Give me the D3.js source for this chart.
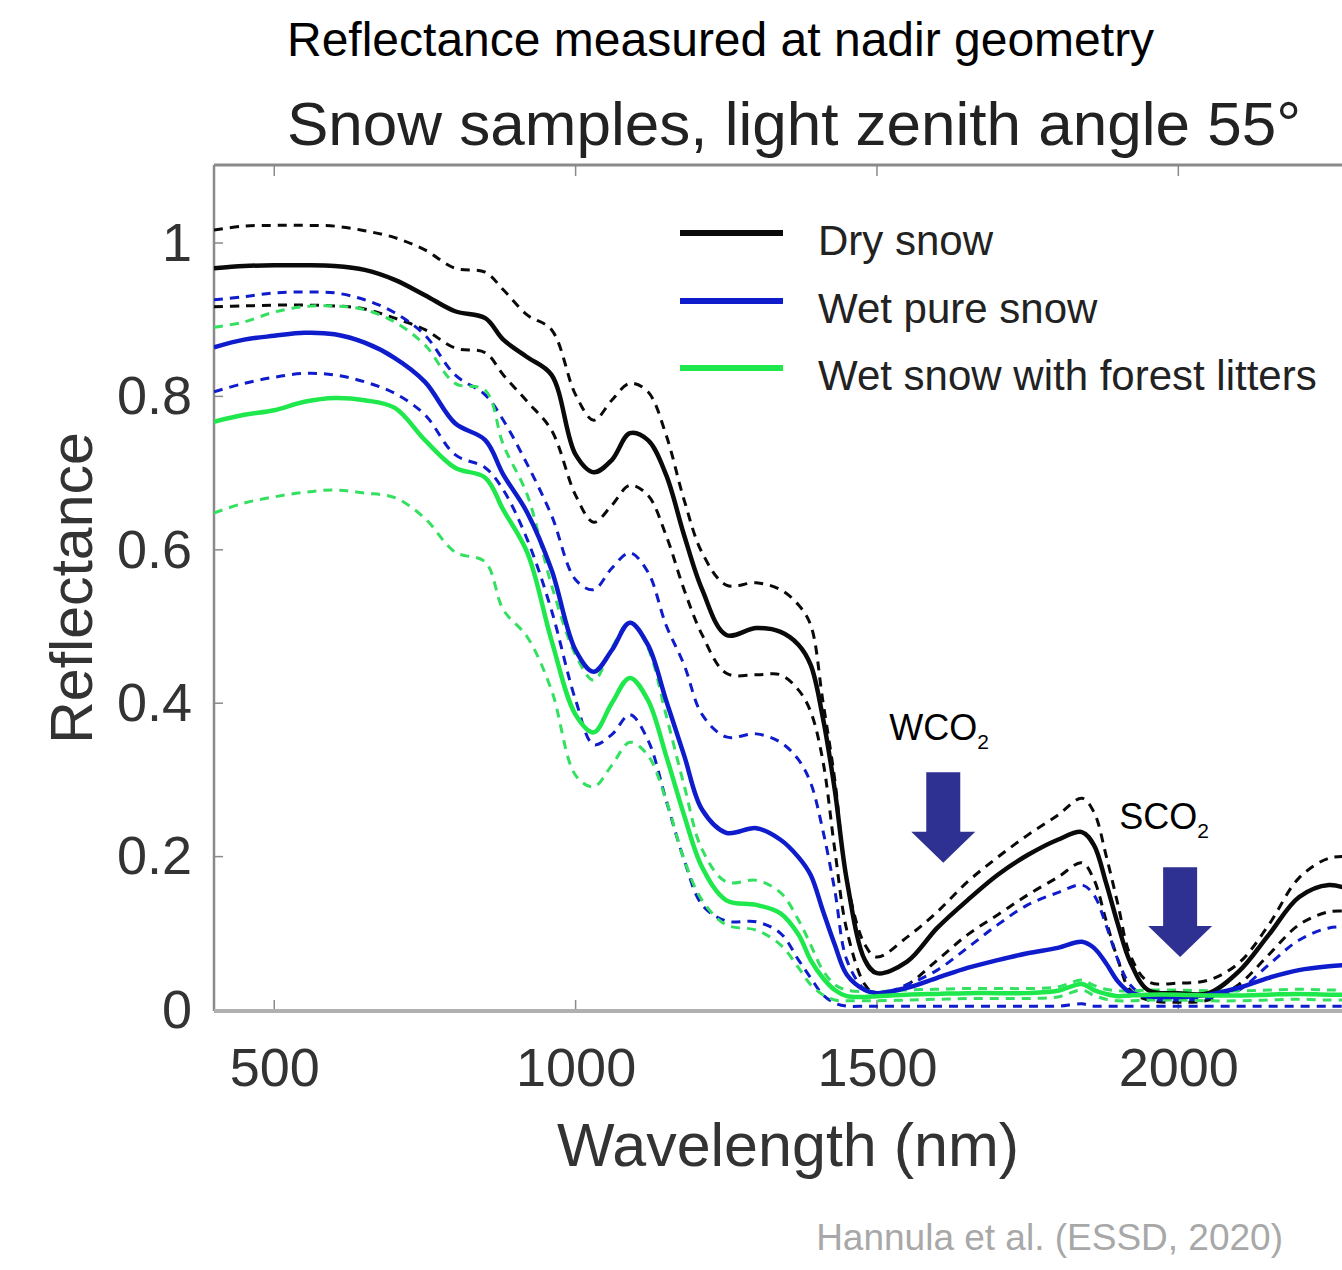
<!DOCTYPE html>
<html>
<head>
<meta charset="utf-8">
<script src="https://cdn.jsdelivr.net/npm/d3@7"></script>
<style>
  html, body { margin: 0; padding: 0; background: #fff; }
  svg { display: block; font-family: "Liberation Sans", Arial, sans-serif; }
</style>
</head>
<body>
<svg id="chart" width="1342" height="1270"></svg>
<script>
// ---------- DATA ----------
const wavelengths = [400, 450, 500, 550, 600, 650, 700, 750, 800, 850, 880, 920, 960, 1000, 1030, 1060, 1090, 1120, 1150, 1180, 1210, 1250, 1300, 1340, 1370, 1390, 1410, 1430, 1450, 1480, 1500, 1550, 1600, 1650, 1700, 1750, 1800, 1840, 1860, 1880, 1900, 1920, 1950, 2000, 2050, 2100, 2150, 2200, 2250, 2290];

const dryMean  = [0.967, 0.970, 0.971, 0.971, 0.970, 0.965, 0.952, 0.932, 0.911, 0.902, 0.874, 0.851, 0.828, 0.724, 0.701, 0.717, 0.752, 0.743, 0.698, 0.619, 0.548, 0.489, 0.498, 0.493, 0.476, 0.450, 0.382, 0.287, 0.169, 0.065, 0.048, 0.063, 0.107, 0.143, 0.176, 0.202, 0.222, 0.232, 0.215, 0.166, 0.111, 0.063, 0.026, 0.022, 0.022, 0.050, 0.098, 0.147, 0.163, 0.155];
const dryUpper = [1.017, 1.022, 1.023, 1.023, 1.022, 1.016, 1.007, 0.991, 0.967, 0.962, 0.939, 0.906, 0.887, 0.802, 0.769, 0.795, 0.817, 0.806, 0.750, 0.665, 0.596, 0.554, 0.557, 0.548, 0.528, 0.502, 0.404, 0.300, 0.169, 0.085, 0.069, 0.095, 0.128, 0.167, 0.199, 0.228, 0.254, 0.276, 0.258, 0.202, 0.137, 0.072, 0.037, 0.035, 0.039, 0.061, 0.111, 0.172, 0.198, 0.200];
const dryLower = [0.917, 0.918, 0.919, 0.919, 0.918, 0.914, 0.902, 0.887, 0.863, 0.857, 0.828, 0.793, 0.756, 0.671, 0.636, 0.658, 0.684, 0.671, 0.619, 0.548, 0.489, 0.439, 0.437, 0.437, 0.417, 0.389, 0.326, 0.209, 0.104, 0.033, 0.020, 0.033, 0.065, 0.098, 0.124, 0.150, 0.173, 0.192, 0.170, 0.117, 0.065, 0.026, 0.013, 0.010, 0.013, 0.033, 0.072, 0.111, 0.128, 0.128];

const wetMean  = [0.864, 0.874, 0.879, 0.883, 0.881, 0.870, 0.850, 0.819, 0.765, 0.743, 0.698, 0.648, 0.574, 0.469, 0.441, 0.469, 0.505, 0.476, 0.404, 0.332, 0.261, 0.231, 0.237, 0.222, 0.199, 0.176, 0.130, 0.085, 0.046, 0.026, 0.022, 0.029, 0.042, 0.055, 0.065, 0.074, 0.081, 0.089, 0.081, 0.061, 0.037, 0.023, 0.018, 0.017, 0.020, 0.029, 0.042, 0.052, 0.057, 0.059];
const wetUpper = [0.926, 0.930, 0.935, 0.936, 0.935, 0.926, 0.909, 0.880, 0.828, 0.802, 0.769, 0.711, 0.645, 0.561, 0.548, 0.576, 0.596, 0.571, 0.502, 0.450, 0.385, 0.356, 0.360, 0.349, 0.326, 0.296, 0.235, 0.156, 0.065, 0.026, 0.020, 0.033, 0.052, 0.081, 0.111, 0.137, 0.153, 0.163, 0.150, 0.111, 0.065, 0.033, 0.016, 0.013, 0.016, 0.026, 0.059, 0.091, 0.107, 0.108];
const wetLower = [0.806, 0.817, 0.825, 0.830, 0.828, 0.819, 0.804, 0.776, 0.724, 0.707, 0.678, 0.613, 0.521, 0.404, 0.346, 0.359, 0.385, 0.352, 0.274, 0.196, 0.137, 0.116, 0.115, 0.100, 0.065, 0.042, 0.020, 0.009, 0.005, 0.005, 0.005, 0.005, 0.005, 0.005, 0.005, 0.005, 0.005, 0.008, 0.005, 0.005, 0.005, 0.005, 0.005, 0.005, 0.005, 0.005, 0.005, 0.005, 0.005, 0.005];

const litMean  = [0.767, 0.776, 0.782, 0.793, 0.798, 0.795, 0.785, 0.743, 0.707, 0.694, 0.652, 0.596, 0.482, 0.385, 0.362, 0.400, 0.433, 0.404, 0.332, 0.254, 0.186, 0.143, 0.137, 0.126, 0.098, 0.065, 0.042, 0.026, 0.018, 0.017, 0.018, 0.020, 0.021, 0.022, 0.022, 0.022, 0.025, 0.034, 0.026, 0.021, 0.018, 0.019, 0.020, 0.020, 0.019, 0.019, 0.020, 0.021, 0.020, 0.020];
const litUpper = [0.890, 0.897, 0.910, 0.917, 0.918, 0.913, 0.897, 0.867, 0.817, 0.808, 0.737, 0.671, 0.554, 0.463, 0.430, 0.472, 0.506, 0.472, 0.385, 0.293, 0.209, 0.167, 0.169, 0.153, 0.117, 0.085, 0.052, 0.033, 0.026, 0.024, 0.024, 0.026, 0.027, 0.028, 0.028, 0.028, 0.030, 0.039, 0.032, 0.027, 0.025, 0.025, 0.026, 0.026, 0.025, 0.025, 0.026, 0.027, 0.026, 0.026];
const litLower = [0.648, 0.661, 0.669, 0.675, 0.678, 0.674, 0.668, 0.641, 0.597, 0.584, 0.522, 0.486, 0.417, 0.306, 0.291, 0.319, 0.349, 0.332, 0.274, 0.196, 0.143, 0.111, 0.104, 0.085, 0.055, 0.033, 0.020, 0.013, 0.012, 0.012, 0.012, 0.013, 0.014, 0.015, 0.015, 0.015, 0.017, 0.026, 0.019, 0.014, 0.012, 0.012, 0.013, 0.013, 0.012, 0.012, 0.013, 0.014, 0.013, 0.013];

const seriesNames = ["Dry snow", "Wet pure snow", "Wet snow with forest litters"];
const xTicks = [500, 1000, 1500, 2000];
const yTicks = [0, 0.2, 0.4, 0.6, 0.8, 1];
const yTickLabels = ["0", "0.2", "0.4", "0.6", "0.8", "1"];

// absorption annotations: [label, wavelength, top value, tip value]
const annotations = [
  ["WCO", 1610, 0.310, 0.192],
  ["SCO", 2003, 0.186, 0.069]
];

// ---------- LAYOUT ----------
const svg = d3.select("#chart");
const plotLeft = 214, plotTop = 166, plotBottom = 1010;
const x = d3.scaleLinear().domain([400, 2500]).range([plotLeft, plotLeft + 2100 * 0.6027]);
const y = d3.scaleLinear().domain([0, 1.1]).range([plotBottom, plotBottom - 1.1 * 767]);

const colors = { black: "#0a0a0a", blue: "#0f1ccc", green: "#1fe84c", greenDash: "#33e060" };

// titles
svg.append("text").attr("x", 287).attr("y", 56).attr("font-size", 48).attr("fill", "#000")
  .text("Reflectance measured at nadir geometry");
svg.append("text").attr("x", 287).attr("y", 145).attr("font-size", 62).attr("fill", "#222")
  .text("Snow samples, light zenith angle 55°");

// clip
svg.append("defs").append("clipPath").attr("id", "plotclip")
  .append("rect").attr("x", plotLeft).attr("y", plotTop).attr("width", 1342 - plotLeft).attr("height", plotBottom - plotTop);

// axes frame
const axisColor = "#8a8a8a";
svg.append("line").attr("x1", plotLeft).attr("x2", 1342).attr("y1", 165).attr("y2", 165)
  .attr("stroke", axisColor).attr("stroke-width", 3);
svg.append("line").attr("x1", plotLeft).attr("x2", plotLeft).attr("y1", 165).attr("y2", 1011)
  .attr("stroke", axisColor).attr("stroke-width", 2.5);

// top ticks (inward)
svg.selectAll(".ttick").data(xTicks).enter().append("line")
  .attr("x1", d => x(d)).attr("x2", d => x(d)).attr("y1", 165).attr("y2", 176)
  .attr("stroke", axisColor).attr("stroke-width", 1.5);

// bottom axis
const xAxis = d3.axisBottom(x).tickValues(xTicks).tickSize(0).tickPadding(38).tickFormat(d3.format("d"));
const gx = svg.append("g").attr("transform", `translate(0,${plotBottom})`).call(xAxis);
gx.select(".domain").remove();
gx.selectAll("text").attr("font-size", 54).attr("fill", "#333").attr("font-family", "Liberation Sans, Arial, sans-serif");
svg.selectAll(".btick").data(xTicks).enter().append("line")
  .attr("x1", d => x(d)).attr("x2", d => x(d)).attr("y1", plotBottom).attr("y2", plotBottom - 10)
  .attr("stroke", axisColor).attr("stroke-width", 1.5);

// left axis
const yAxis = d3.axisLeft(y).tickValues(yTicks).tickSize(0).tickPadding(22).tickFormat((d, i) => yTickLabels[i]);
const gy = svg.append("g").attr("transform", `translate(${plotLeft},0)`).call(yAxis);
gy.select(".domain").remove();
gy.selectAll("text").attr("font-size", 54).attr("fill", "#333").attr("font-family", "Liberation Sans, Arial, sans-serif");
svg.selectAll(".ltick").data(yTicks).enter().append("line")
  .attr("x1", plotLeft).attr("x2", plotLeft + 9).attr("y1", d => y(d)).attr("y2", d => y(d))
  .attr("stroke", axisColor).attr("stroke-width", 1.5);

// axis labels
svg.append("text").attr("transform", "translate(92,588) rotate(-90)").attr("text-anchor", "middle")
  .attr("font-size", 59).attr("fill", "#333").text("Reflectance");
svg.append("text").attr("x", 788).attr("y", 1166).attr("text-anchor", "middle")
  .attr("font-size", 61).attr("fill", "#333").text("Wavelength (nm)");

// ---------- LINES ----------
const line = d3.line().x(d => x(d[0])).y(d => y(d[1])).curve(d3.curveCatmullRom.alpha(0.5));
const pts = vals => wavelengths.map((w, i) => [w, vals[i]]);
const plotG = svg.append("g").attr("clip-path", "url(#plotclip)");

const dashed = [
  [dryUpper, colors.black], [dryLower, colors.black],
  [wetUpper, colors.blue], [wetLower, colors.blue],
  [litUpper, colors.greenDash], [litLower, colors.greenDash]
];
dashed.forEach(([vals, c]) => {
  plotG.append("path").attr("d", line(pts(vals))).attr("fill", "none")
    .attr("stroke", c).attr("stroke-width", 3).attr("stroke-dasharray", "9,7");
});
const solids = [[dryMean, colors.black], [wetMean, colors.blue], [litMean, colors.green]];
solids.forEach(([vals, c]) => {
  plotG.append("path").attr("d", line(pts(vals))).attr("fill", "none")
    .attr("stroke", c).attr("stroke-width", 4.5).attr("stroke-linejoin", "round");
});

// bottom axis line drawn over the curves
svg.append("line").attr("x1", plotLeft).attr("x2", 1342).attr("y1", plotBottom + 1).attr("y2", plotBottom + 1)
  .attr("stroke", "#b0b0b0").attr("stroke-width", 4);

// ---------- LEGEND ----------
const legendColors = [colors.black, colors.blue, colors.green];
const legendYs = [233, 301, 368];
seriesNames.forEach((name, i) => {
  svg.append("line").attr("x1", 680).attr("x2", 783).attr("y1", legendYs[i]).attr("y2", legendYs[i])
    .attr("stroke", legendColors[i]).attr("stroke-width", 6);
  svg.append("text").attr("x", 818).attr("y", legendYs[i] + 22).attr("font-size", 42).attr("fill", "#222").text(name);
});

// ---------- ANNOTATIONS ----------
const arrowColor = "#2e3192";
const labelOffsets = [[-54, -32], [-61, -38]];
annotations.forEach(([lab, w, top, tip], i) => {
  const cx = x(w), yt = y(top), yp = y(tip);
  const headH = 31, shaftHW = 17, headHW = 32;
  const ys = yp - headH;
  svg.append("path")
    .attr("d", `M${cx - shaftHW},${yt} L${cx + shaftHW},${yt} L${cx + shaftHW},${ys} L${cx + headHW},${ys} L${cx},${yp} L${cx - headHW},${ys} L${cx - shaftHW},${ys} Z`)
    .attr("fill", arrowColor);
  const t = svg.append("text").attr("x", cx + labelOffsets[i][0]).attr("y", yt + labelOffsets[i][1])
    .attr("font-size", 36).attr("fill", "#000");
  t.append("tspan").text(lab);
  t.append("tspan").attr("font-size", 21).attr("dy", 9).text("2");
});

// citation
svg.append("text").attr("x", 1283).attr("y", 1250).attr("text-anchor", "end")
  .attr("font-size", 37).attr("fill", "#a8a8a8").text("Hannula et al. (ESSD, 2020)");
</script>
</body>
</html>
